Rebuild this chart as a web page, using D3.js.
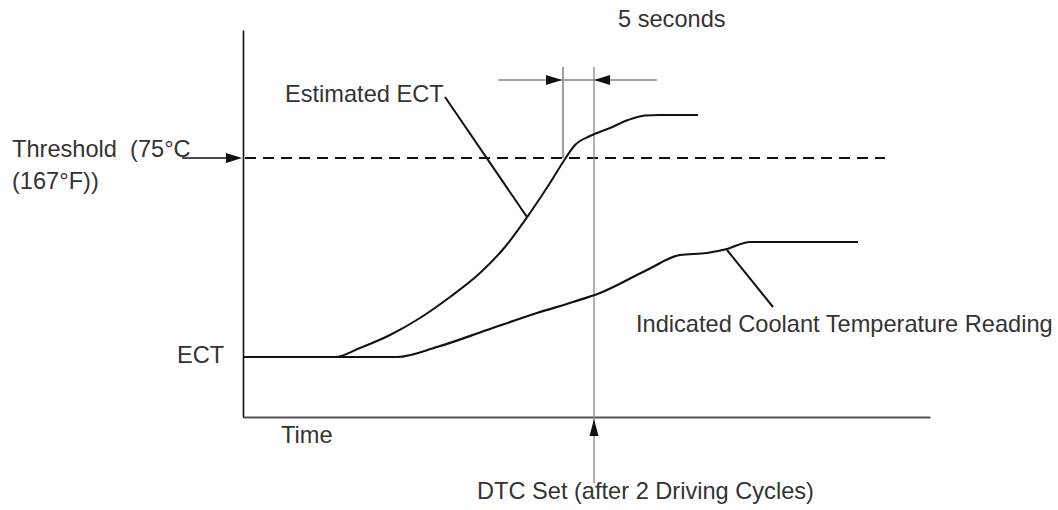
<!DOCTYPE html>
<html>
<head>
<meta charset="utf-8">
<script src="https://cdn.jsdelivr.net/npm/d3@7"></script>
<style>
  body { margin: 0; background: #fff; }
  svg { display: block; }
  text { font-family: "Liberation Sans", Arial, sans-serif; font-size: 23.6px; fill: #333; white-space: pre; }
</style>
</head>
<body>
<svg id="chart" width="1058" height="510"></svg>
<script>
// time and temperature in arbitrary diagram units
const estTime = [0, 92, 117, 147, 177, 207, 237, 262, 287, 307, 322, 332, 347, 367, 385, 402, 417, 455];
const estTemp = [60, 60, 69, 82, 99, 120, 144, 170, 204, 234, 258, 272, 281, 289, 297, 301.5, 302, 302];

const indTime = [0, 154, 194, 244, 294, 330, 357, 404, 437, 464, 484, 507, 615];
const indTemp = [60, 60, 70, 87, 104, 115, 124, 147, 162, 164, 168, 175, 175];

const thresholdTemp = 259;
const crossTime = 320;   // estimated ECT reaches threshold
const dtcTime = 351;     // 5 seconds later

const svg = d3.select("#chart");
const x = d3.scaleLinear().domain([0, 687]).range([243, 930]);
const y = d3.scaleLinear().domain([0, 387]).range([417, 30]);

// axes, no ticks
svg.append("g")
    .attr("transform", `translate(0,${y(0)})`)
    .call(d3.axisBottom(x).ticks(0).tickSizeOuter(0))
    .select(".domain").attr("stroke", "#555").attr("stroke-width", 2);
svg.append("g")
    .attr("transform", `translate(${x(0)},0)`)
    .call(d3.axisLeft(y).ticks(0).tickSizeOuter(0))
    .select(".domain").attr("stroke", "#111").attr("stroke-width", 1.6);

// threshold
svg.append("line")
    .attr("x1", x(2)).attr("x2", x(642))
    .attr("y1", y(thresholdTemp)).attr("y2", y(thresholdTemp))
    .attr("stroke", "#111").attr("stroke-width", 2)
    .attr("stroke-dasharray", "11 7");

// DTC line and the start of the 5 s window
svg.append("line")
    .attr("x1", x(dtcTime)).attr("x2", x(dtcTime))
    .attr("y1", y(350)).attr("y2", y(-66))
    .attr("stroke", "#888").attr("stroke-width", 1.3);
svg.append("line")
    .attr("x1", x(crossTime)).attr("x2", x(crossTime))
    .attr("y1", y(350)).attr("y2", y(thresholdTemp))
    .attr("stroke", "#888").attr("stroke-width", 1.6);

const line = d3.line()
    .x(d => x(d[0]))
    .y(d => y(d[1]))
    .curve(d3.curveMonotoneX);

svg.append("path")
    .datum(d3.zip(indTime, indTemp))
    .attr("d", line)
    .attr("fill", "none").attr("stroke", "#111").attr("stroke-width", 2.2);
svg.append("path")
    .datum(d3.zip(estTime, estTemp))
    .attr("d", line)
    .attr("fill", "none").attr("stroke", "#111").attr("stroke-width", 2);

// 5 seconds dimension
const dimY = y(337);
svg.append("line")
    .attr("x1", x(255)).attr("x2", x(414))
    .attr("y1", dimY).attr("y2", dimY)
    .attr("stroke", "#888").attr("stroke-width", 1.5);

function arrow(tx, ty, dir, len, half) {
  // dir: [dx, dy] unit vector pointing to the tip
  const bx = tx - dir[0] * len, by = ty - dir[1] * len;
  const px = -dir[1] * half, py = dir[0] * half;
  svg.append("path")
      .attr("d", `M${tx},${ty}L${bx + px},${by + py}L${bx - px},${by - py}Z`)
      .attr("fill", "#111");
}
arrow(x(crossTime) - 1, dimY, [1, 0], 16, 5);
arrow(x(dtcTime), dimY, [-1, 0], 16, 5);
arrow(x(dtcTime), y(0) + 2, [0, -1], 17, 4.5);

// threshold pointer
svg.append("line")
    .attr("x1", 182).attr("x2", x(0) - 10)
    .attr("y1", y(thresholdTemp)).attr("y2", y(thresholdTemp))
    .attr("stroke", "#111").attr("stroke-width", 1.5);
arrow(x(0) - 1, y(thresholdTemp), [1, 0], 16, 5);

// leaders
svg.append("line")
    .attr("x1", 445).attr("y1", 97)
    .attr("x2", x(284)).attr("y2", y(200))
    .attr("stroke", "#111").attr("stroke-width", 2);
svg.append("line")
    .attr("x1", x(484)).attr("y1", y(167))
    .attr("x2", 773).attr("y2", 307)
    .attr("stroke", "#111").attr("stroke-width", 2);

// labels
const labels = [
  {t: "5 seconds", x: 618, y: 27},
  {t: "Estimated ECT", x: 285, y: 102},
  {t: "Threshold  (75°C", x: 12, y: 157},
  {t: "(167°F))", x: 12, y: 189},
  {t: "ECT", x: 177, y: 363},
  {t: "Time", x: 281, y: 443},
  {t: "Indicated Coolant Temperature Reading", x: 636, y: 332},
  {t: "DTC Set (after 2 Driving Cycles)", x: 477, y: 499}
];
svg.selectAll("text.lbl")
    .data(labels)
    .enter()
    .append("text")
    .attr("class", "lbl")
    .attr("x", d => d.x)
    .attr("y", d => d.y)
    .text(d => d.t);
</script>
</body>
</html>
